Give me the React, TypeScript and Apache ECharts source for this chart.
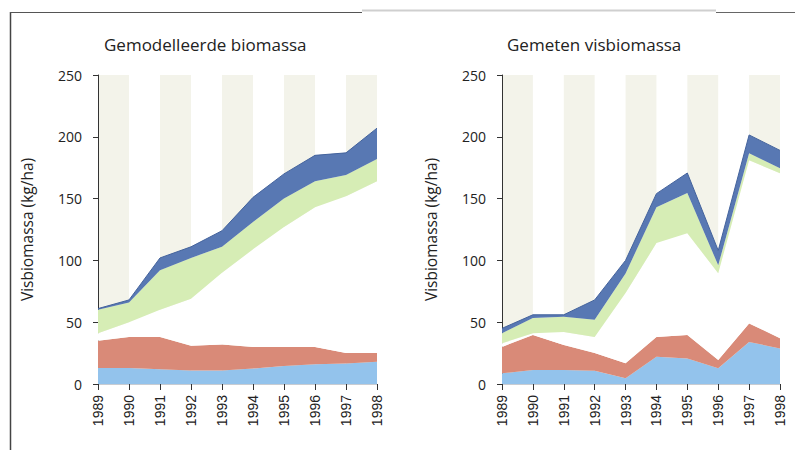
import React, { useEffect, useRef } from "react";
import * as echarts from "echarts";

const years = ["1989", "1990", "1991", "1992", "1993", "1994", "1995", "1996", "1997", "1998"];
const yTicks = [0, 50, 100, 150, 200, 250];

// Gemodelleerde biomassa: upper boundary of each band (kg/ha)
const modelLightBlueTop = [13, 13, 12, 11, 11, 12.5, 14.5, 16, 16.5, 18];
const modelRedTop = [35, 38, 38, 31, 32, 30, 30, 30, 25, 25];
const modelGreenBottom = [41, 50, 60, 69, 90, 109, 127, 143, 152, 164];
const modelGreenTop = [60, 66, 92, 102, 111, 131, 150, 164, 169, 182];
const modelDarkBlueTop = [61, 68, 102, 111, 124, 151, 170, 185, 187, 207];

// Gemeten visbiomassa
const measLightBlueTop = [8.6, 11.3, 11.3, 10.8, 4.6, 22, 20.7, 12.7, 34, 28.8];
const measRedTop = [30, 39.6, 31.5, 25, 16.7, 38, 39.6, 19.4, 49, 37];
const measGreenBottom = [33, 41, 42, 38, 73.6, 114, 122, 89.6, 181, 170.5];
const measGreenTop = [41, 53.4, 54.5, 52, 89.5, 143, 154.5, 96, 186.6, 174.5];
const measDarkBlueTop = [45, 56, 56, 68, 100, 154, 170.7, 108, 201.5, 189];

const titles = ["Gemodelleerde biomassa", "Gemeten visbiomassa"];
const yName = "Visbiomassa (kg/ha)";

const C_LIGHTBLUE = "#93c3ec";
const C_RED = "#d98a78";
const C_GREEN = "#d6edb5";
const C_DARKBLUE = "#5878b3";

function diff(a: number[], b: number[]) {
  return a.map((v, i) => +(v - b[i]).toFixed(2));
}

function bands(lb: number[], red: number[], gb: number[], gt: number[], dt: number[]) {
  return [
    { name: "lb", data: lb, color: C_LIGHTBLUE },
    { name: "red", data: diff(red, lb), color: C_RED },
    { name: "gap", data: diff(gb, red), color: "#ffffff" },
    { name: "green", data: diff(gt, gb), color: C_GREEN },
    { name: "dark", data: diff(dt, gt), color: C_DARKBLUE },
  ];
}

export default function App() {
  const ref = useRef<HTMLDivElement>(null);
  useEffect(() => {
    if (!ref.current) return;
    const chart = echarts.init(ref.current, undefined, { renderer: "svg" });
    const font = "'Open Sans', sans-serif";
    const grids = [
      { left: 98, right: 418, top: 75, bottom: 66 },
      { left: 502, right: 15, top: 75, bottom: 66 },
    ];
    const xAxis = grids.map((_, i) => ({
      type: "category",
      gridIndex: i,
      data: years,
      boundaryGap: false,
      axisLine: { show: true, lineStyle: { color: "#c8ccd2", width: 1 } },
      axisTick: { show: true, interval: 0, length: 6, lineStyle: { color: "#333" } },
      axisLabel: {
        rotate: 90,
        interval: 0,
        margin: 11,
        fontSize: 14,
        color: "#222",
        fontFamily: "'Liberation Sans', Arial, sans-serif",
      },
      splitLine: { show: false },
      splitArea: {
        show: true,
        interval: 0,
        areaStyle: { color: ["#f3f3ea", "rgba(255,255,255,0)"] },
      },
    }));
    const yAxis = grids.map((_, i) => ({
      type: "value",
      gridIndex: i,
      min: yTicks[0],
      max: yTicks[yTicks.length - 1],
      interval: 50,
      name: yName,
      nameLocation: "middle",
      nameGap: 63,
      nameTextStyle: { fontSize: 15.5, color: "#222", fontFamily: font },
      axisLine: { show: true, lineStyle: { color: "#333", width: 1 } },
      axisTick: { show: true, length: 5, lineStyle: { color: "#333" } },
      axisLabel: { fontSize: 14, color: "#222", margin: 16, fontFamily: font },
      splitLine: { show: false },
    }));
    const sets = [
      bands(modelLightBlueTop, modelRedTop, modelGreenBottom, modelGreenTop, modelDarkBlueTop),
      bands(measLightBlueTop, measRedTop, measGreenBottom, measGreenTop, measDarkBlueTop),
    ];
    const series: any[] = [];
    sets.forEach((set, gi) => {
      set.forEach((b) => {
        series.push({
          type: "line",
          name: b.name + gi,
          xAxisIndex: gi,
          yAxisIndex: gi,
          stack: "s" + gi,
          data: b.data,
          symbol: "none",
          silent: true,
          lineStyle:
            b.name === "dark"
              ? { width: 1, color: "#44639c" }
              : { width: 0, color: b.color },
          areaStyle: { color: b.color, opacity: 1 },
          z: 2,
        });
      });
    });
    chart.setOption({
      animation: false,
      backgroundColor: "#ffffff",
      title: [
        {
          text: titles[0],
          left: 99,
          top: 31,
          textStyle: { fontSize: 17, fontWeight: "normal", color: "#222", fontFamily: font },
        },
        {
          text: titles[1],
          left: 502,
          top: 31,
          textStyle: { fontSize: 17, fontWeight: "normal", color: "#222", fontFamily: font },
        },
      ],
      grid: grids,
      xAxis,
      yAxis,
      series,
      graphic: [
        { type: "line", shape: { x1: 10.5, y1: 12, x2: 10.5, y2: 450 }, style: { stroke: "#444", lineWidth: 1.5 } },
        { type: "line", shape: { x1: 10, y1: 12.5, x2: 362, y2: 12.5 }, style: { stroke: "#555", lineWidth: 1 } },
        { type: "line", shape: { x1: 362, y1: 10.5, x2: 716, y2: 10.5 }, style: { stroke: "#cfcfcf", lineWidth: 2 } },
        { type: "line", shape: { x1: 716, y1: 12.5, x2: 795, y2: 12.5 }, style: { stroke: "#666", lineWidth: 1 } },
      ],
    });
    return () => chart.dispose();
  }, []);
  return (
    <div
      ref={ref}
      style={{ position: "fixed", left: 0, top: 0, width: 795, height: 450 }}
    />
  );
}
